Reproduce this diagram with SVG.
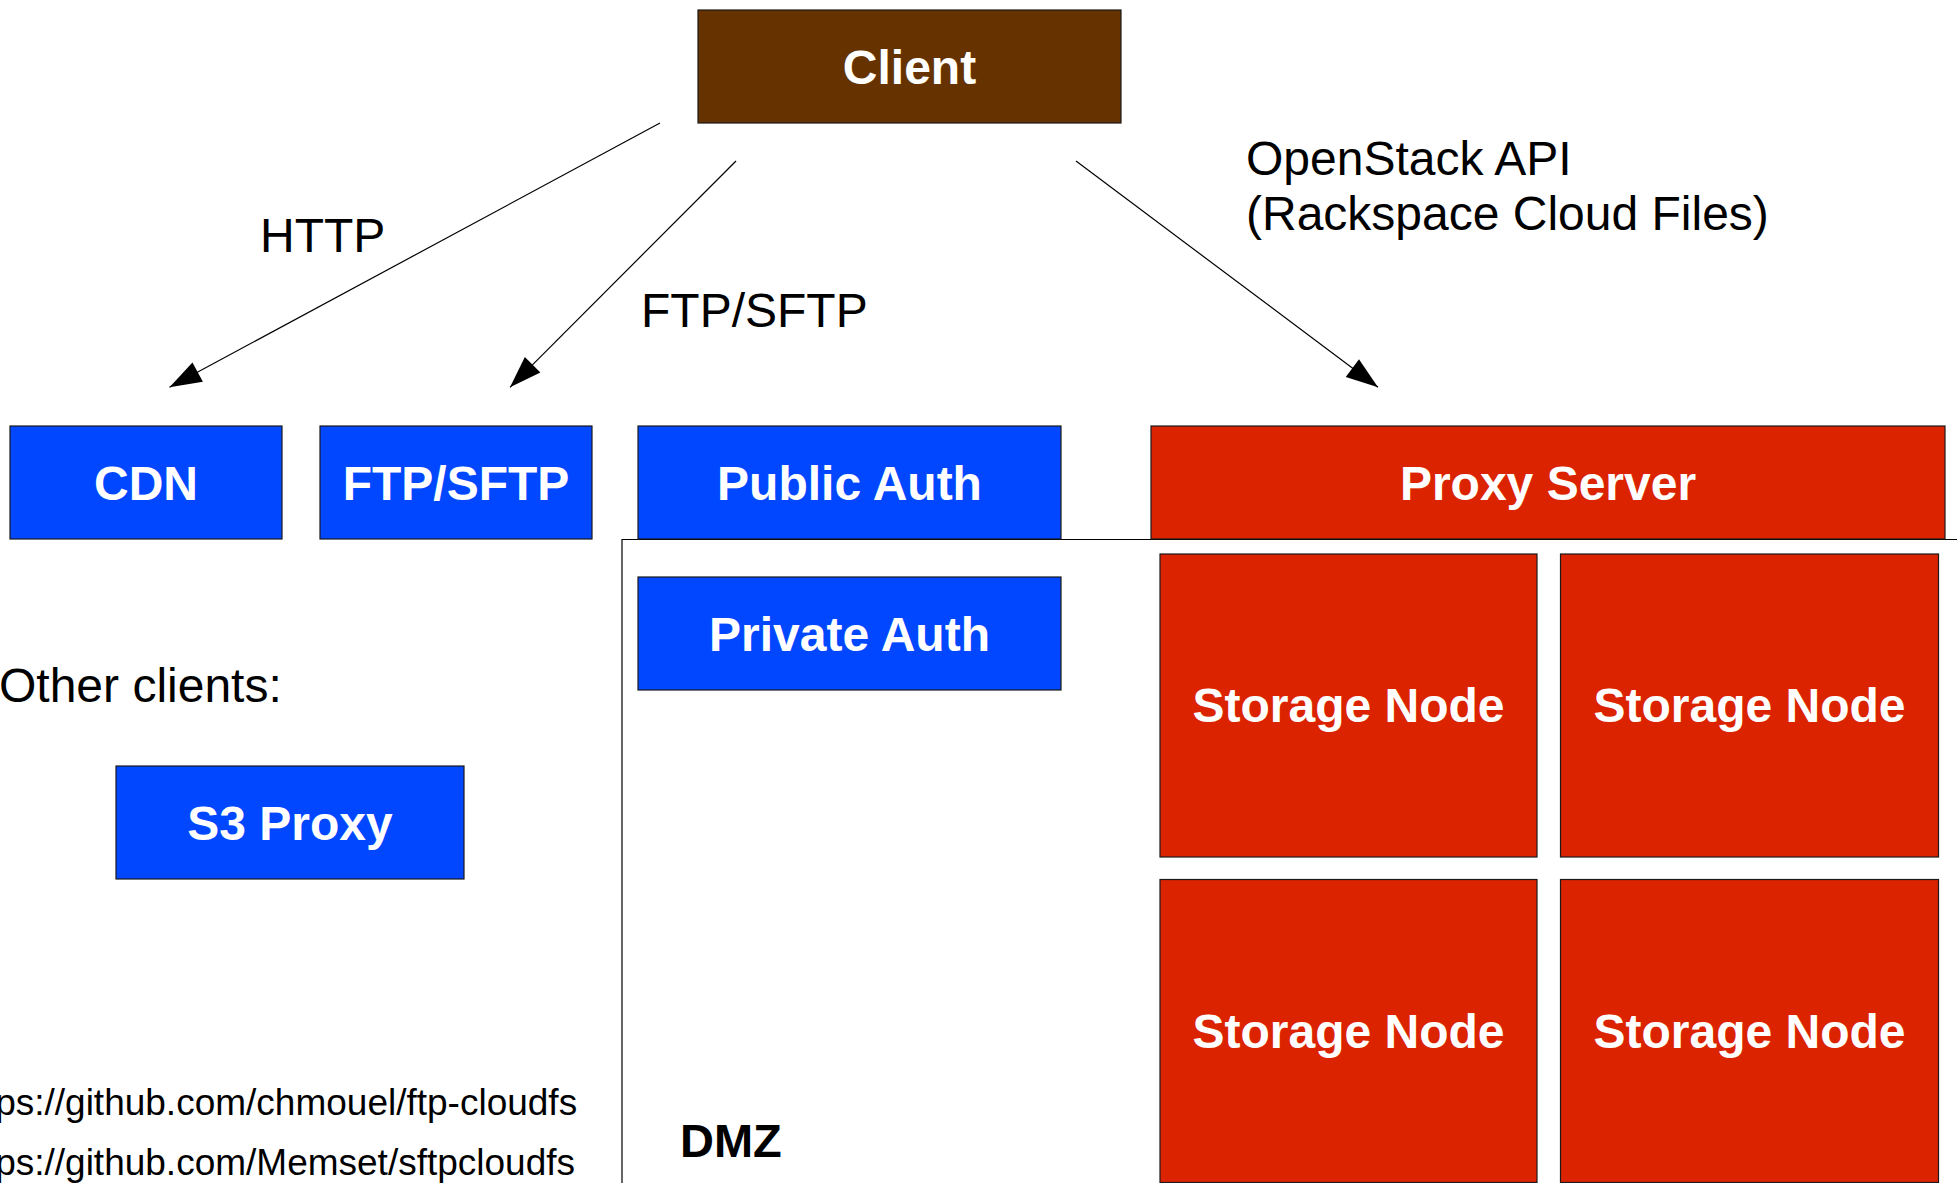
<svg xmlns="http://www.w3.org/2000/svg" width="1957" height="1183" viewBox="0 0 1957 1183">
<style>
  text { font-family: "Liberation Sans", Arial, sans-serif; }
  .box { stroke: #1a1a1a; stroke-width: 1.2; }
  .blue { fill: #0047ff; }
  .red { fill: #dc2300; }
  .brown { fill: #663300; }
  .lbl { fill: #ffffff; font-weight: bold; font-size: 48px; text-anchor: middle; }
  .txt { fill: #000000; font-size: 48px; }
  .url { fill: #000000; font-size: 37px; }
  .edge { stroke: #000; stroke-width: 1.2; fill: none; marker-end: url(#arrow); }
</style>
<defs>
  <marker id="arrow" markerUnits="userSpaceOnUse" markerWidth="34" markerHeight="24" refX="32" refY="11" orient="auto" overflow="visible">
    <path d="M0,0 L32,11 L0,22 Z" fill="#000"/>
  </marker>
</defs>
<rect width="1957" height="1183" fill="#ffffff"/>

<g id="dmz">
  <path d="M622,1183 L622,539.5 L1957,539.5" fill="none" stroke="#000" stroke-width="1.2"/>
  <text x="680" y="1157" style="font-family:'Liberation Sans',Arial,sans-serif;font-weight:bold;font-size:47px;fill:#000">DMZ</text>
</g>

<g id="connectors">
  <line class="edge" x1="660" y1="123" x2="169.5" y2="387.3"/>
  <line class="edge" x1="736" y1="161" x2="510" y2="387.3"/>
  <line class="edge" x1="1076" y1="161" x2="1378" y2="387.3"/>
  <text class="txt" x="260" y="251.5">HTTP</text>
  <text class="txt" x="641" y="327">FTP/SFTP</text>
  <text class="txt" x="1246" y="175">OpenStack API</text>
  <text class="txt" x="1246" y="230">(Rackspace Cloud Files)</text>
</g>

<g id="client">
  <rect class="box brown" x="698" y="10" width="423" height="113"/>
  <text class="lbl" x="909.5" y="84">Client</text>
</g>
<g id="cdn">
  <rect class="box blue" x="10" y="426" width="272" height="113"/>
  <text class="lbl" x="146" y="499.5">CDN</text>
</g>
<g id="ftp-sftp">
  <rect class="box blue" x="320" y="426" width="272" height="113"/>
  <text class="lbl" x="456" y="499.5">FTP/SFTP</text>
</g>
<g id="public-auth">
  <rect class="box blue" x="638" y="426" width="423" height="113"/>
  <text class="lbl" x="849.5" y="499.5">Public Auth</text>
</g>
<g id="proxy-server">
  <rect class="box red" x="1151" y="426" width="794" height="113"/>
  <text class="lbl" x="1548" y="499.5">Proxy Server</text>
</g>
<g id="private-auth">
  <rect class="box blue" x="638" y="577" width="423" height="113"/>
  <text class="lbl" x="849.5" y="651">Private Auth</text>
</g>
<g id="other-clients">
  <text class="txt" x="-1" y="702">Other clients:</text>
</g>
<g id="s3-proxy">
  <rect class="box blue" x="116" y="766" width="348" height="113"/>
  <text class="lbl" x="290" y="839.5">S3 Proxy</text>
</g>
<g id="storage-node-1">
  <rect class="box red" x="1160" y="554" width="377" height="303"/>
  <text class="lbl" x="1348.5" y="722">Storage Node</text>
</g>
<g id="storage-node-2">
  <rect class="box red" x="1560.5" y="554" width="378" height="303"/>
  <text class="lbl" x="1749.5" y="722">Storage Node</text>
</g>
<g id="storage-node-3">
  <rect class="box red" x="1160" y="879.5" width="377" height="303"/>
  <text class="lbl" x="1348.5" y="1047.5">Storage Node</text>
</g>
<g id="storage-node-4">
  <rect class="box red" x="1560.5" y="879.5" width="378" height="303"/>
  <text class="lbl" x="1749.5" y="1047.5">Storage Node</text>
</g>
<g id="links">
  <text class="url" x="-46" y="1115">https://github.com/chmouel/ftp-cloudfs</text>
  <text class="url" x="-46" y="1175">https://github.com/Memset/sftpcloudfs</text>
</g>
</svg>
